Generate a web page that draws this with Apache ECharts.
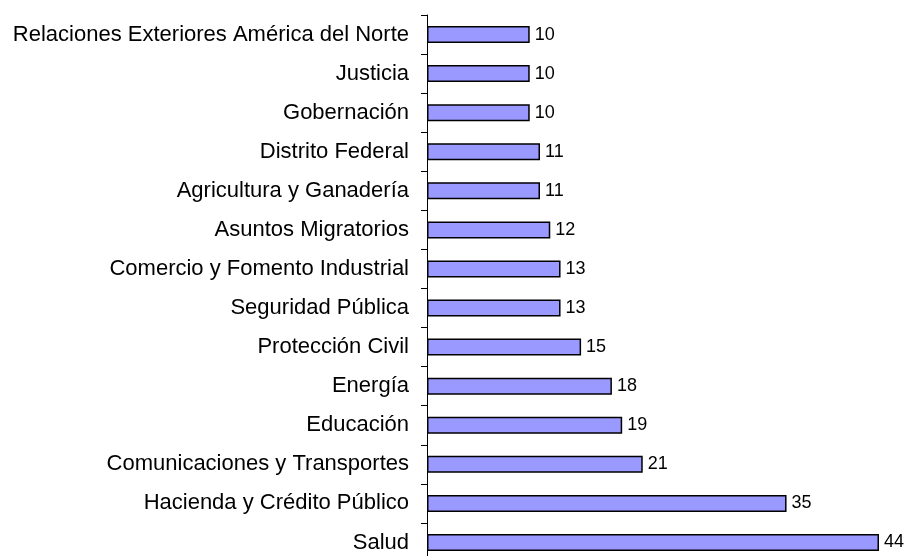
<!DOCTYPE html>
<html>
<head>
<meta charset="utf-8">
<script src="https://cdn.jsdelivr.net/npm/echarts@6/dist/echarts.min.js"></script>
<style>
  html, body { margin: 0; padding: 0; background: #fff; }
  #chart { width: 907px; height: 556px; }
</style>
</head>
<body>
<div id="chart"></div>
<script>
// categories top to bottom, as in the picture
let categories = [
    'Relaciones Exteriores América del Norte',
    'Justicia',
    'Gobernación',
    'Distrito Federal',
    'Agricultura y Ganadería',
    'Asuntos Migratorios',
    'Comercio y Fomento Industrial',
    'Seguridad Pública',
    'Protección Civil',
    'Energía',
    'Educación',
    'Comunicaciones y Transportes',
    'Hacienda y Crédito Público',
    'Salud'
];
let values = [10, 10, 10, 11, 11, 12, 13, 13, 15, 18, 19, 21, 35, 44];

let myChart = echarts.init(document.getElementById('chart'));
let option = {
    animation: false,
    // plot runs a little past the bottom edge, like the reference
    grid: {left: 427, width: 452, top: 15, height: 547, containLabel: false, outerBoundsMode: 'none'},
    xAxis: {
        type: 'value',
        min: 0,
        max: 44,
        show: false,
        splitLine: {show: false}
    },
    yAxis: {
        type: 'category',
        inverse: true,
        data: categories,
        axisLine: {show: true, lineStyle: {color: '#000', width: 1}},
        axisTick: {show: true, length: 6, lineStyle: {color: '#000'}},
        axisLabel: {
            color: '#000',
            fontFamily: 'Liberation Sans, Arial, sans-serif',
            fontSize: 22,
            margin: 18
        }
    },
    series: [{
        type: 'bar',
        data: values,
        barWidth: 17,
        itemStyle: {color: '#9999FF', borderColor: '#000', borderWidth: 1.5},
        label: {
            show: true,
            position: 'right',
            distance: 5,
            color: '#000',
            fontFamily: 'Liberation Sans, Arial, sans-serif',
            fontSize: 18
        }
    }]
};
myChart.setOption(option);
</script>
</body>
</html>
